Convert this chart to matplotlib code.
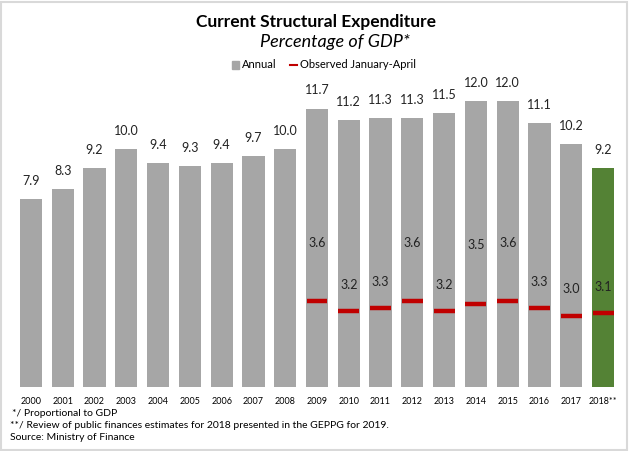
import matplotlib
matplotlib.use("Agg")
import matplotlib.pyplot as plt
import numpy as np
from matplotlib.patches import Rectangle
from matplotlib.lines import Line2D

plt.rcParams['font.family'] = ['Lato', 'DejaVu Sans']

years = ["2000", "2001", "2002", "2003", "2004", "2005", "2006", "2007", "2008", "2009",
         "2010", "2011", "2012", "2013", "2014", "2015", "2016", "2017", "2018**"]
annual = [7.9, 8.3, 9.2, 10.0, 9.4, 9.3, 9.4, 9.7, 10.0, 11.7,
          11.2, 11.3, 11.3, 11.5, 12.0, 12.0, 11.1, 10.2, 9.2]
obs_years = ["2009", "2010", "2011", "2012", "2013", "2014", "2015", "2016", "2017", "2018**"]
observed = [3.6, 3.2, 3.3, 3.6, 3.2, 3.5, 3.6, 3.3, 3.0, 3.1]

gray = "#A6A6A6"
green = "#548235"
red = "#C00000"

fig = plt.figure(figsize=(6.29, 4.51), dpi=100)
ax = fig.add_axes([15/629, 64/451, 604/629, 309.4/451])

x = np.arange(len(years))
colors = [gray] * (len(years) - 1) + [green]
ax.bar(x, annual, width=0.70, color=colors, zorder=2)
ax.set_xlim(-0.5, len(years) - 0.5)
ax.set_ylim(0, 13)

for xi, v in zip(x, annual):
    ax.annotate(f"{v:.1f}", (xi, v), xytext=(0, 13), textcoords="offset points",
                ha="center", va="center", fontsize=9, color="#222222")

ox = np.array([years.index(y) for y in obs_years])
ax.hlines(observed, ox - 0.33, ox + 0.33, colors=red, linewidth=3.2, zorder=3)
for xi, v in zip(ox, observed):
    off = 1.1 if v < 3.45 else 2.45
    ax.text(xi, v + off, f"{v:.1f}", ha="center", va="center", fontsize=9,
            color="#222222", zorder=4)

ax.set_xticks(x)
ax.set_xticklabels(years, fontsize=6.5)
ax.tick_params(axis="x", length=0, pad=7.5)
ax.set_yticks([])
for s in ax.spines.values():
    s.set_visible(False)

fig.text(316/629, 1 - 22/451, "Current Structural Expenditure", ha="center", va="center",
         fontsize=12.5, fontweight="bold")
fig.text(335/629, 1 - 42/451, "Percentage of GDP*", ha="center", va="center",
         fontsize=13, style="italic")

handles = [Rectangle((0, 0), 1, 1, color=gray), Line2D([0], [0], color=red, lw=1.5)]
fig.legend(handles, ["Annual", "Observed January-April"], loc="center",
           bbox_to_anchor=(324/629, 1 - 65/451), ncol=2, frameon=False, fontsize=8,
           handlelength=0.6, handleheight=0.7, columnspacing=1.2, handletextpad=0.3)

fig.text(12/629, 1 - 413/451, "*/ Proportional to GDP", fontsize=7.5, va="center")
fig.text(10/629, 1 - 425/451,
         "**/ Review of public finances estimates for 2018 presented in the GEPPG for 2019.",
         fontsize=7.5, va="center")
fig.text(10/629, 1 - 437/451, "Source: Ministry of Finance", fontsize=7.5, va="center")

fig.patches.append(Rectangle((1/629, 1/451), 626/629, 448/451, transform=fig.transFigure,
                             fill=False, edgecolor="#D9D9D9", linewidth=1.5))

fig.savefig("out.png", dpi=100)
